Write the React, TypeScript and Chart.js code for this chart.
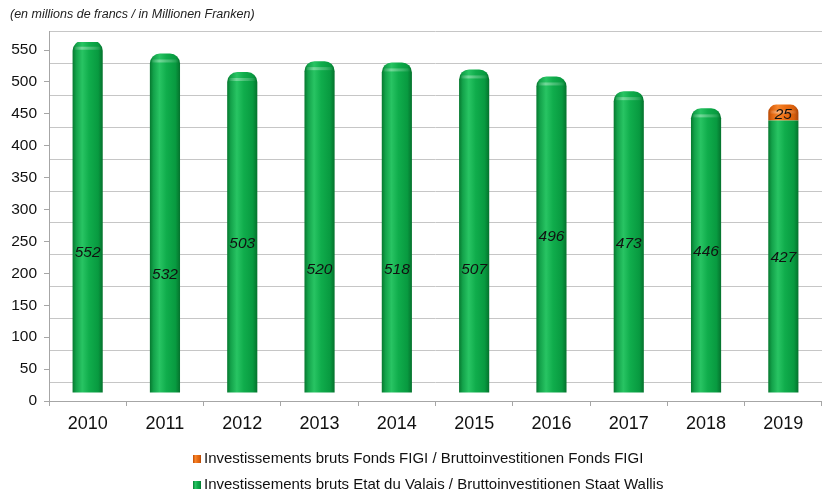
import React, { useEffect, useRef } from "react";
import { Chart, registerables } from "chart.js";

Chart.register(...registerables);

// ---- data ----
const years = ["2010", "2011", "2012", "2013", "2014", "2015", "2016", "2017", "2018", "2019"];
const etatValues = [552, 532, 503, 520, 518, 507, 496, 473, 446, 427];
const figiValues: (number | null)[] = [null, null, null, null, null, null, null, null, null, 25];
// level (in value units) at which each green value label sits in the original
const etatLabelLevels = [232, 198, 246, 206, 206, 206, 257, 246, 234, 225];
const unitNote = "(en millions de francs / in Millionen Franken)";
const figiName = "Investissements bruts Fonds FIGI / Bruttoinvestitionen Fonds FIGI";
const etatName = "Investissements bruts Etat du Valais / Bruttoinvestitionen Staat Wallis";
const yMax = 550;
const yStep = 50;

// ---- styles ----
const FONT = "'Liberation Sans', Arial, sans-serif";
const BAR_PCT = 0.39;
const DEPTH = 19;
const LIFT = 8;
const GREEN_STOPS: [number, string][] = [
  [0, "#06782f"],
  [0.12, "#13a24a"],
  [0.32, "#28c463"],
  [0.55, "#10ad4c"],
  [0.85, "#089a40"],
  [1, "#05722d"],
];
const ORANGE_STOPS: [number, string][] = [
  [0, "#b84a06"],
  [0.12, "#de6410"],
  [0.32, "#f7862c"],
  [0.55, "#ec6e14"],
  [0.85, "#d85f0c"],
  [1, "#a9440a"],
];

function cylFill(stops: [number, string][]) {
  return (c: any) => {
    const chart = c.chart;
    const xs = chart.scales && chart.scales.x;
    if (!xs || c.dataIndex == null || !xs.width) return stops[2][1];
    const cx = xs.getPixelForValue(c.dataIndex);
    const w = (xs.width / years.length) * BAR_PCT;
    const g = chart.ctx.createLinearGradient(cx - w / 2, 0, cx + w / 2, 0);
    stops.forEach(([o, col]) => g.addColorStop(o, col));
    return g;
  };
}

function squareFill(ctx: CanvasRenderingContext2D, x: number, y: number, s: number, stops: [number, string][]) {
  const g = ctx.createLinearGradient(x, 0, x + s, 0);
  stops.forEach(([o, col]) => g.addColorStop(o, col));
  ctx.fillStyle = g;
  ctx.fillRect(x, y, s, s);
}

const threeD = {
  id: "threeD",
  beforeDatasetsDraw(chart: any) {
    const { ctx, chartArea, scales } = chart;
    const y = scales.y;
    ctx.save();
    ctx.lineWidth = 1;
    ctx.strokeStyle = "#c6c6c6";
    for (const t of y.ticks) {
      const py = Math.round(y.getPixelForValue(t.value) - DEPTH) + 0.5;
      ctx.beginPath();
      ctx.moveTo(chartArea.left, py);
      ctx.lineTo(chartArea.right, py);
      ctx.stroke();
    }
    ctx.strokeStyle = "#a6a6a6";
    const top = Math.round(y.getPixelForValue(y.max) - DEPTH);
    const lx = Math.round(chartArea.left) + 0.5;
    ctx.beginPath();
    ctx.moveTo(lx, top);
    ctx.lineTo(lx, chartArea.bottom);
    ctx.stroke();
    ctx.restore();
    ctx.save();
    ctx.translate(0, -LIFT);
  },
  afterDatasetsDraw(chart: any) {
    const ctx = chart.ctx;
    const m0 = chart.getDatasetMeta(0);
    const m1 = chart.getDatasetMeta(1);
    // highlight band near the top of each column
    years.forEach((_, i) => {
      const el = figiValues[i] != null ? m1.data[i] : m0.data[i];
      if (!el) return;
      const w = el.width;
      const g = ctx.createLinearGradient(el.x - w / 2, 0, el.x + w / 2, 0);
      g.addColorStop(0, "rgba(255,255,255,0)");
      g.addColorStop(0.3, "rgba(255,255,255,0.35)");
      g.addColorStop(0.7, "rgba(255,255,255,0.2)");
      g.addColorStop(1, "rgba(255,255,255,0)");
      ctx.fillStyle = g;
      ctx.fillRect(el.x - w / 2 + 2, el.y + 6, w - 4, 3);
    });
    ctx.restore();

    // value labels
    const y = chart.scales.y;
    ctx.save();
    ctx.font = `italic 15.5px ${FONT}`;
    ctx.fillStyle = "#111";
    ctx.textAlign = "center";
    ctx.textBaseline = "middle";
    m0.data.forEach((el: any, i: number) => {
      ctx.fillText(String(etatValues[i]), el.x, y.getPixelForValue(etatLabelLevels[i]));
    });
    m1.data.forEach((el: any, i: number) => {
      const v = figiValues[i];
      if (v == null) return;
      ctx.fillText(String(v), el.x, (el.y + el.base) / 2 - LIFT + 2);
    });
    ctx.restore();
  },
  afterDraw(chart: any) {
    const ctx = chart.ctx;
    ctx.save();
    // unit note
    ctx.font = `italic 12.5px ${FONT}`;
    ctx.fillStyle = "#222";
    ctx.textAlign = "left";
    ctx.textBaseline = "middle";
    ctx.fillText(unitNote, 10, 15);
    // legend
    ctx.font = `15px ${FONT}`;
    const items: [string, [number, string][], number][] = [
      [figiName, ORANGE_STOPS, 459],
      [etatName, GREEN_STOPS, 485],
    ];
    items.forEach(([txt, stops, cy]) => {
      squareFill(ctx, 193, cy - 4, 8, stops);
      ctx.fillStyle = "#111";
      ctx.fillText(txt, 204, cy);
    });
    ctx.restore();
  },
};

export default function App() {
  const ref = useRef<HTMLCanvasElement>(null);
  useEffect(() => {
    if (!ref.current) return;
    const chart = new Chart(ref.current, {
      type: "bar",
      data: {
        labels: years,
        datasets: [
          {
            label: etatName,
            data: etatValues,
            backgroundColor: cylFill(GREEN_STOPS),
            borderWidth: 0,
            borderRadius: (c: any) =>
              figiValues[c.dataIndex] != null ? 0 : { topLeft: 10, topRight: 10, bottomLeft: 0, bottomRight: 0 },
            borderSkipped: false,
            barPercentage: BAR_PCT,
            categoryPercentage: 1,
          },
          {
            label: figiName,
            data: figiValues,
            backgroundColor: cylFill(ORANGE_STOPS),
            borderWidth: 0,
            borderRadius: { topLeft: 10, topRight: 10, bottomLeft: 0, bottomRight: 0 },
            borderSkipped: false,
            barPercentage: BAR_PCT,
            categoryPercentage: 1,
          },
        ],
      },
      options: {
        animation: false,
        responsive: false,
        maintainAspectRatio: false,
        layout: { padding: { top: 50, bottom: 52, left: 0, right: 0 } },
        plugins: {
          legend: { display: false },
          tooltip: { enabled: false },
          title: { display: false },
        },
        scales: {
          x: {
            stacked: true,
            grid: { drawOnChartArea: false, drawTicks: true, tickLength: 5, color: "#a6a6a6", offset: true },
            border: { display: true, color: "#a6a6a6" },
            ticks: { font: { family: FONT, size: 18 }, color: "#111", padding: 7 },
            afterFit: (s: any) => {
              s.height = 40;
            },
          },
          y: {
            stacked: true,
            min: 0,
            max: yMax,
            ticks: { stepSize: yStep, font: { family: FONT, size: 15.5 }, color: "#111", padding: 7 },
            grid: { drawOnChartArea: false, drawTicks: true, tickLength: 5, color: "#a6a6a6" },
            border: { display: false },
            afterFit: (s: any) => {
              s.width = 49;
            },
          },
        },
      },
      plugins: [threeD],
    });
    return () => chart.destroy();
  }, []);
  return (
    <div style={{ position: "fixed", left: 0, top: 0, width: 822, height: 493, background: "#fff" }}>
      <canvas ref={ref} width={822} height={493} style={{ display: "block" }} />
    </div>
  );
}
